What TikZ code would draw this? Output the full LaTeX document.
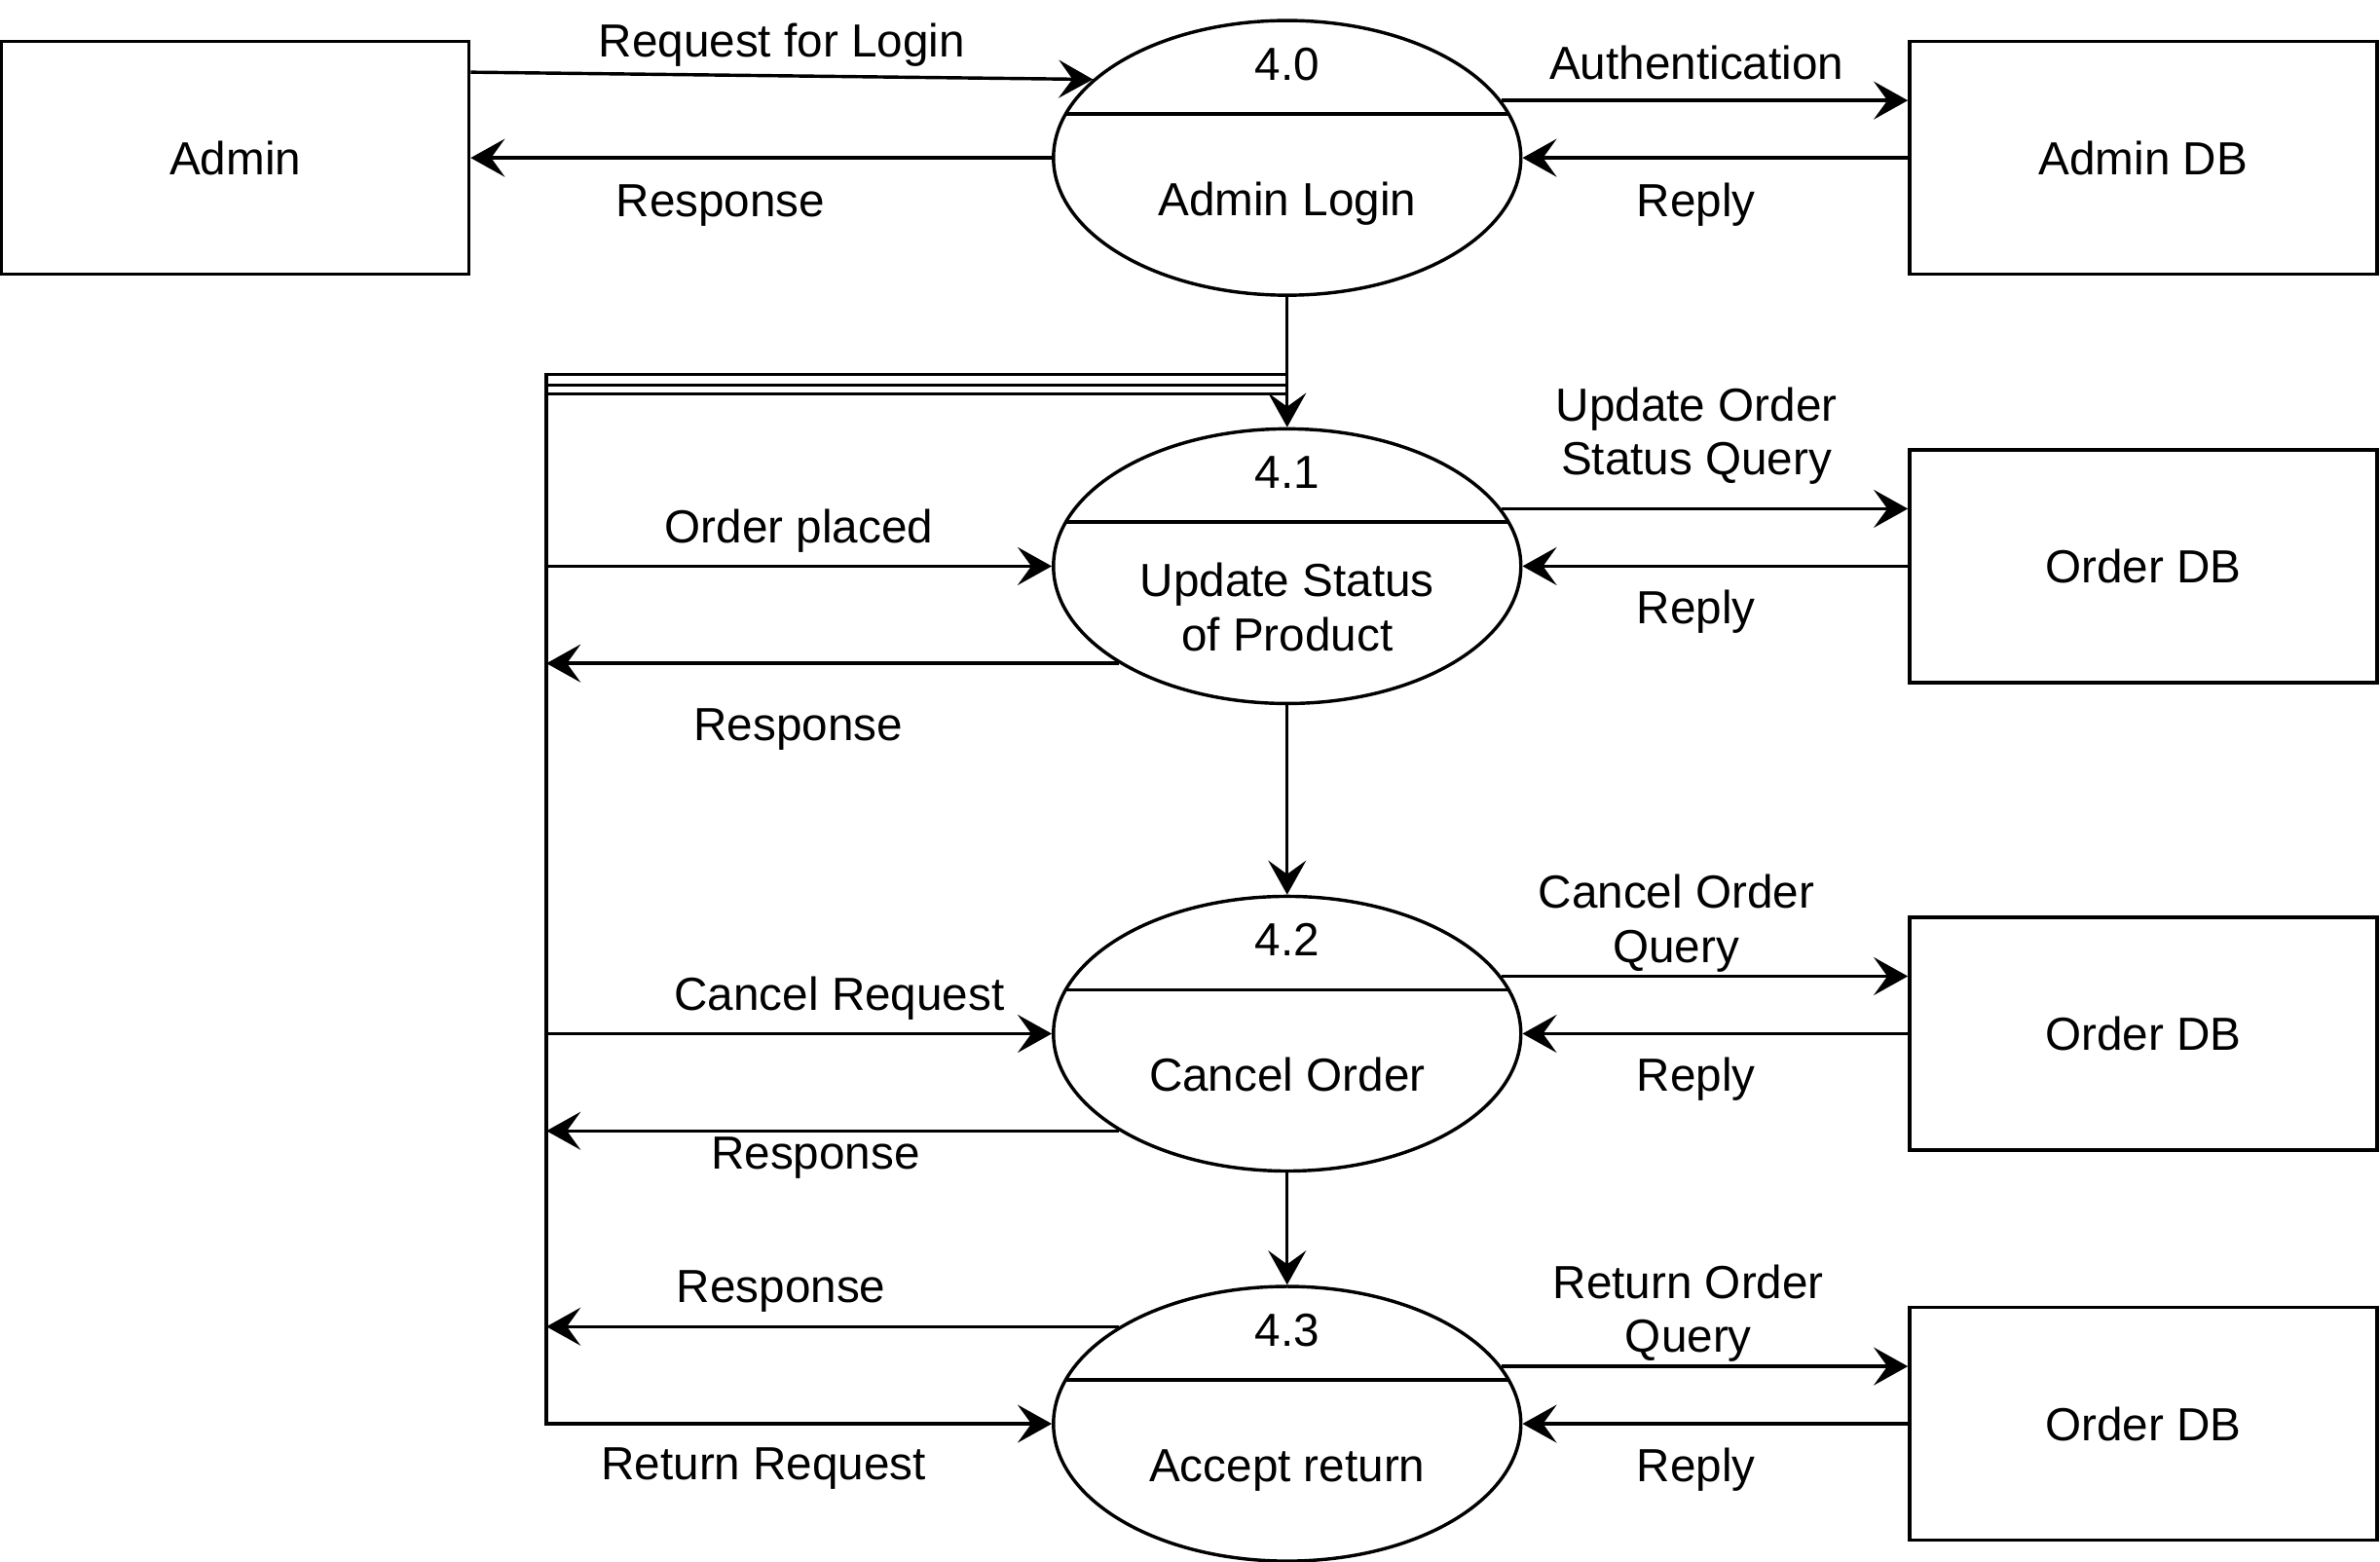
\documentclass[tikz,border=0pt]{standalone}
\usepackage{fontspec}
\setmainfont{Liberation Sans}
\usetikzlibrary{shapes.geometric,arrows.meta,positioning}

\begin{document}
\begin{tikzpicture}[x=0.02cm,y=-0.02cm,line width=1.25pt,
  every node/.style={font=\fontsize{17.4}{20.4}\selectfont},
  lab/.style={inner sep=0pt,text height=12.5pt,text depth=0pt,align=center},
  proc/.style={draw,ellipse,minimum width=6.16cm,minimum height=3.62cm,inner sep=0pt},
  store/.style={draw,rectangle,minimum width=6.16cm,minimum height=3.07cm},
  flow/.style={-{Stealth[length=0.45cm,width=0.5cm,inset=0.18cm]}}]
\useasboundingbox (0,0) rectangle (1568,1029);

\foreach \n/\num/\y/\dy/\txt in {p0/4.0/104/27/Admin Login, p1/4.1/373/45/{Update Status\\of Product},
            p2/4.2/681/27/Cancel Order, p3/4.3/938/27/Accept return}{
  \node[proc] (\n) at (848,\y) {};
  \node[lab] (\n-id) at (848,\y-62) {\num};
  \node[lab] (\n-name) at (848,\y+\dy) {\txt};
  \draw (848-146,\y-29) -- (848+146,\y-29);
}

\node[store] (admin) at (155,104) {Admin};
\foreach \n/\y/\txt in {adb/104/Admin DB, odb1/373/Order DB, odb2/681/Order DB, odb3/938/Order DB}
  \node[store] (\n) at (1412,\y) {\txt};
\coordinate (bus) at (360,245);

\draw[flow] (admin.20) -- (p0.158) node[lab,midway,above=0.22cm] {Request for Login};
\draw[flow] (p0.west) -- (admin.east) node[lab,pos=.57,below=0.32cm] {Response};
\draw[flow] (p0.15) -- (p0.15 -| adb.west) node[lab,pos=.48,above=0.26cm] {Authentication};
\draw[flow] (adb.west) -- (p0.east) node[lab,pos=.55,below=0.32cm] {Reply};

\foreach \p/\s/\ps/\d/\q in {p1/odb1/.48/0.42cm/{Update Order\\Status Query},%
            p2/odb2/.43/0.16cm/{Cancel Order\\Query},%
            p3/odb3/.46/0.16cm/{Return Order\\Query}%
            }{
  \draw[flow] (\p.15) -- (\p.15 -| \s.west) node[lab,pos=\ps,above=\d] {\q};
  \draw[flow] (\s.west) -- (\p.east) node[lab,pos=.55,below=0.3cm] {Reply};
}

\draw[flow] (p0.south) -- (p1.north);
\draw[flow] (p1.south) -- (p2.north);
\draw[flow] (p2.south) -- (p3.north);

\draw[flow] (p0.south) -- ++(0,51) -| (p1.west -| bus) -- (p1.west) node[lab,midway,above=0.28cm] {Order placed};
\draw[flow] (p0.south) -- ++(0,58) -| (p2.west -| bus) -- (p2.west) node[lab,pos=.58,above=0.28cm] {Cancel Request};
\draw[flow] (p0.south) -- ++(0,64) -| (p3.west -| bus) -- (p3.west) node[lab,pos=.43,below=0.28cm] {Return Request};

\draw[flow] (p1.210) -- (p1.210 -| bus) node[lab,pos=.56,below=0.56cm] {Response};
\draw[flow] (p2.210) -- (p2.210 -| bus) node[lab,pos=.53,below=0.04cm] {Response};
\draw[flow] (p3.150) -- (p3.150 -| bus) node[lab,pos=.59,above=0.3cm] {Response};

\end{tikzpicture}
\end{document}
